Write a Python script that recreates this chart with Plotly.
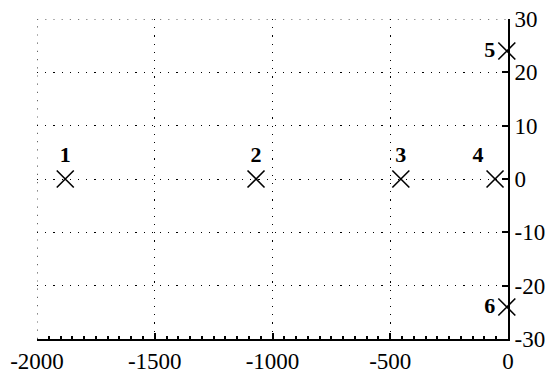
import plotly.graph_objects as go

# Pole locations (real, imaginary)
labels = ["1", "2", "3", "4", "5", "6"]
real_part = [-1880, -1070, -455, -55, -5, -5]
imag_part = [0, 0, 0, 0, 24, -24]
label_pos = ["top center", "top center", "top center", "top left", "middle left", "middle left"]

x_ticks = [-2000, -1500, -1000, -500, 0]
y_ticks = [-30, -20, -10, 0, 10, 20, 30]

font_family = "Liberation Serif, Times New Roman, serif"
grid_dash = "1.2px,7px"

fig = go.Figure()
fig.add_trace(go.Scatter(
    x=real_part, y=imag_part,
    mode="markers+text",
    text=["<b>%s</b>" % t for t in labels],
    textposition=label_pos,
    textfont=dict(family=font_family, size=22, color="black"),
    marker=dict(symbol="x-thin-open", size=17, color="black",
                line=dict(color="black", width=1.6)),
    showlegend=False,
    cliponaxis=False,
))

# edge gridlines (plotly drops gridlines lying on the plot border)
fig.add_shape(type="line", xref="x", yref="paper", x0=x_ticks[0], x1=x_ticks[0], y0=0, y1=1,
              line=dict(color="black", width=1.2, dash=grid_dash), layer="below")
fig.add_shape(type="line", xref="paper", yref="y", x0=0, x1=1, y0=y_ticks[-1], y1=y_ticks[-1],
              line=dict(color="black", width=1.2, dash=grid_dash), layer="below")

fig.update_layout(
    width=550, height=374,
    margin=dict(l=37, r=42, t=19, b=35),
    paper_bgcolor="white", plot_bgcolor="white",
    font=dict(family=font_family, size=23, color="black"),
)
fig.update_xaxes(
    range=[-2000, 0],
    tickvals=x_ticks,
    ticktext=[str(v) for v in x_ticks],
    showline=True, linecolor="black", linewidth=2,
    ticks="inside", ticklen=6, tickcolor="black", tickwidth=1.5,
    minor=dict(ticks="inside", dtick=50, ticklen=3, tickcolor="black", showgrid=False),
    showgrid=True, gridcolor="black", gridwidth=1.2, griddash=grid_dash,
    zeroline=False, automargin=False,
    tickfont=dict(family=font_family, size=23),
)
fig.update_yaxes(
    range=[-30, 30],
    side="right",
    tickvals=y_ticks,
    ticktext=[str(v) for v in y_ticks],
    showline=True, linecolor="black", linewidth=2,
    ticks="inside", ticklen=6, tickcolor="black", tickwidth=1.5,
    showgrid=True, gridcolor="black", gridwidth=1.2, griddash=grid_dash,
    zeroline=False, automargin=False,
    tickfont=dict(family=font_family, size=23),
)

fig.write_html("out.html", config={"displayModeBar": False},
               post_script="document.body.style.margin='0';document.body.style.overflow='hidden';")
